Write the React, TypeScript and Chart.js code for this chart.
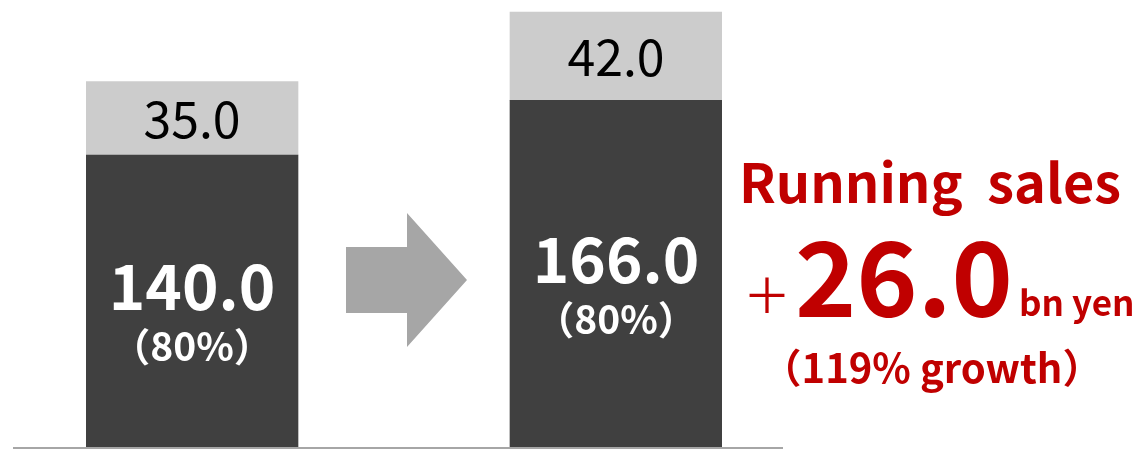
import React, { useEffect, useRef } from "react";
import { Chart, registerables } from "chart.js";

Chart.register(...registerables);

const categories = ["Before", "", "After"];
const runningValues = [140.0, null, 166.0];
const otherValues = [35.0, null, 42.0];
const shareLabels = ["（80%）", "", "（80%）"];
const headline = "Running  sales";
const plusSign = "＋";
const deltaValue = "26.0";
const deltaUnit = "bn yen";
const growthLabel = "（119% growth）";

const DARK = "#404040";
const LIGHT = "#cccccc";
const ARROW = "#a6a6a6";
const RED = "#c00000";
const FONT = '"Noto Sans CJK JP", "Noto Sans", sans-serif';

const overlayPlugin = {
  id: "overlay",
  afterDatasetsDraw(chart: any) {
    const { ctx, chartArea, scales } = chart;
    const y0 = scales.y.getPixelForValue(0);
    ctx.save();

    // baseline
    ctx.strokeStyle = "#a6a6a6";
    ctx.lineWidth = 2;
    ctx.beginPath();
    ctx.moveTo(chartArea.left - 73, y0 - 1);
    ctx.lineTo(chartArea.right + 61, y0 - 1);
    ctx.stroke();

    // arrow in the middle category
    const cx = scales.x.getPixelForValue(1);
    const cy = 280;
    ctx.fillStyle = ARROW;
    ctx.beginPath();
    ctx.moveTo(cx - 58, cy - 33);
    ctx.lineTo(cx + 3, cy - 33);
    ctx.lineTo(cx + 3, cy - 67);
    ctx.lineTo(cx + 63, cy);
    ctx.lineTo(cx + 3, cy + 67);
    ctx.lineTo(cx + 3, cy + 33);
    ctx.lineTo(cx - 58, cy + 33);
    ctx.closePath();
    ctx.fill();

    // bar labels
    const darkMeta = chart.getDatasetMeta(0);
    const lightMeta = chart.getDatasetMeta(1);
    ctx.textAlign = "center";
    darkMeta.data.forEach((bar: any, i: number) => {
      const v = runningValues[i];
      if (v == null) return;
      const mid = (bar.y + bar.base) / 2;
      ctx.fillStyle = "#ffffff";
      ctx.textBaseline = "alphabetic";
      ctx.font = `bold 62px ${FONT}`;
      ctx.fillText(v.toFixed(1), bar.x, mid + 8);
      ctx.font = `bold 39px ${FONT}`;
      ctx.fillText(shareLabels[i], bar.x, mid + 59);
    });
    lightMeta.data.forEach((bar: any, i: number) => {
      const v = otherValues[i];
      if (v == null) return;
      const mid = (bar.y + bar.base) / 2;
      ctx.fillStyle = "#000000";
      ctx.textBaseline = "middle";
      ctx.font = `50px ${FONT}`;
      ctx.fillText(v.toFixed(1), bar.x, mid + 1);
    });

    // right-hand annotation
    ctx.fillStyle = RED;
    ctx.textBaseline = "alphabetic";
    ctx.textAlign = "center";
    ctx.font = `bold 54px ${FONT}`;
    ctx.fillText(headline, 930, 203);

    ctx.textAlign = "center";
    ctx.textBaseline = "middle";
    ctx.font = `48px ${FONT}`;
    ctx.fillText(plusSign, 767, 295);

    ctx.textBaseline = "alphabetic";
    ctx.textAlign = "left";
    ctx.font = `bold 104px ${FONT}`;
    ctx.fillText(deltaValue, 795, 317);
    ctx.font = `bold 35px ${FONT}`;
    ctx.fillText(deltaUnit, 1019, 316);

    ctx.textAlign = "center";
    ctx.font = `bold 40px ${FONT}`;
    ctx.fillText(growthLabel, 932, 383);

    ctx.restore();
  },
};

export default function App() {
  const ref = useRef<HTMLCanvasElement>(null);
  useEffect(() => {
    if (!ref.current) return;
    const chart = new Chart(ref.current, {
      type: "bar",
      data: {
        labels: categories,
        datasets: [
          {
            label: "Running",
            data: runningValues as any,
            backgroundColor: DARK,
            borderWidth: 0,
            barPercentage: 1,
            categoryPercentage: 1,
          },
          {
            label: "Other",
            data: otherValues as any,
            backgroundColor: LIGHT,
            borderWidth: 0,
            barPercentage: 1,
            categoryPercentage: 1,
          },
        ],
      },
      options: {
        responsive: false,
        animation: false,
        layout: { padding: { left: 86, right: 423, top: 8, bottom: 1 } },
        plugins: { legend: { display: false }, tooltip: { enabled: false } },
        scales: {
          x: { stacked: true, display: false },
          y: { stacked: true, display: false, min: 0, max: 210 },
        },
      },
      plugins: [overlayPlugin],
    });
    return () => chart.destroy();
  }, []);
  return (
    <div style={{ position: "absolute", left: 0, top: 0, width: 1145, height: 450, background: "#fff" }}>
      <canvas ref={ref} width={1145} height={450} />
    </div>
  );
}
